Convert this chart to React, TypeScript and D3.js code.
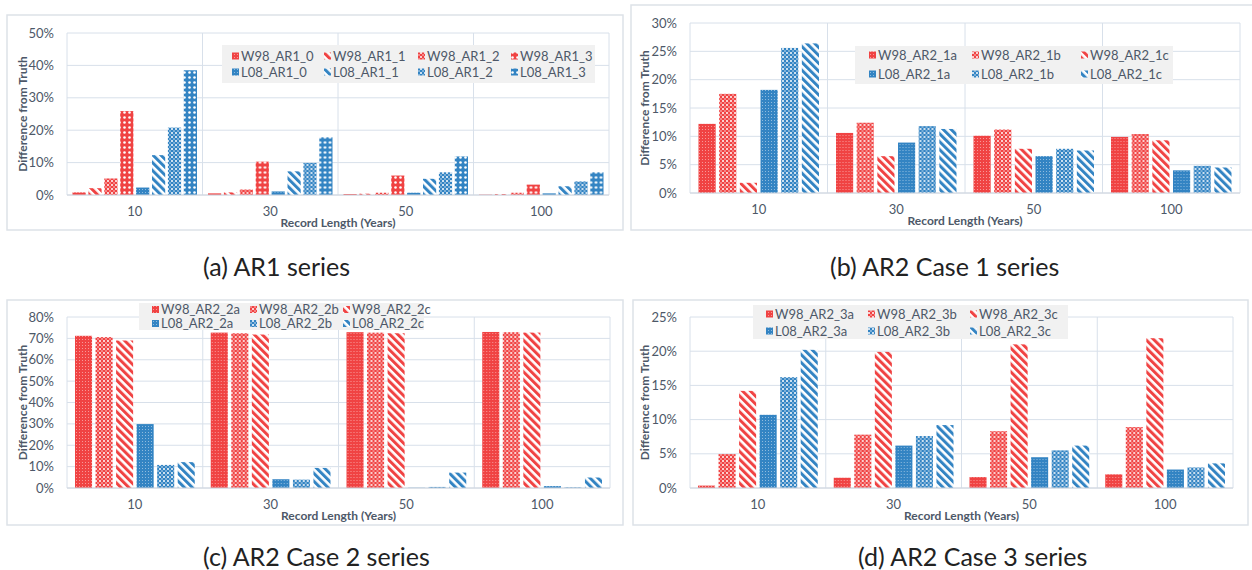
import * as d3 from "d3";
import React from "react";

// record lengths (categories)
const years = ["10", "30", "50", "100"];

// (a) AR1 series, values in % per record length
const ar1Series = ["W98_AR1_0", "W98_AR1_1", "W98_AR1_2", "W98_AR1_3", "L08_AR1_0", "L08_AR1_1", "L08_AR1_2", "L08_AR1_3"];
const ar1Values = [
  [0.8, 0.5, 0.3, 0.1],
  [2.1, 0.8, 0.4, 0.3],
  [5.1, 1.7, 0.7, 0.7],
  [25.9, 10.3, 6.0, 3.2],
  [2.3, 1.1, 0.7, 0.5],
  [12.3, 7.3, 5.0, 2.7],
  [20.8, 9.9, 7.0, 4.2],
  [38.5, 17.8, 11.9, 7.0],
];
const ar1Patterns = ["dense", "stripe", "confetti", "sphere", "dense", "stripe", "confetti", "sphere"];

// (b) AR2 case 1
const ar2c1Series = ["W98_AR2_1a", "W98_AR2_1b", "W98_AR2_1c", "L08_AR2_1a", "L08_AR2_1b", "L08_AR2_1c"];
const ar2c1Values = [
  [12.2, 10.6, 10.1, 9.9],
  [17.5, 12.4, 11.2, 10.4],
  [1.8, 6.5, 7.8, 9.3],
  [18.2, 8.9, 6.5, 4.0],
  [25.6, 11.8, 7.8, 4.8],
  [26.4, 11.3, 7.5, 4.5],
];

// (c) AR2 case 2
const ar2c2Series = ["W98_AR2_2a", "W98_AR2_2b", "W98_AR2_2c", "L08_AR2_2a", "L08_AR2_2b", "L08_AR2_2c"];
const ar2c2Values = [
  [71.2, 72.7, 72.9, 73.0],
  [70.6, 72.4, 72.7, 72.9],
  [69.0, 71.8, 72.4, 72.7],
  [29.9, 4.1, 0.1, 0.9],
  [10.8, 3.9, 0.5, 0.3],
  [12.1, 9.4, 7.2, 4.9],
];

// (d) AR2 case 3
const ar2c3Series = ["W98_AR2_3a", "W98_AR2_3b", "W98_AR2_3c", "L08_AR2_3a", "L08_AR2_3b", "L08_AR2_3c"];
const ar2c3Values = [
  [0.35, 1.5, 1.6, 2.0],
  [4.95, 7.8, 8.3, 8.9],
  [14.2, 19.9, 21.0, 21.9],
  [10.7, 6.2, 4.5, 2.7],
  [16.2, 7.6, 5.5, 3.0],
  [20.2, 9.2, 6.2, 3.6],
];
const ar2Patterns = ["dense", "confetti", "stripe", "dense", "confetti", "stripe"];

const captions = ["(a) AR1 series", "(b) AR2 Case 1 series", "(c) AR2 Case 2 series", "(d) AR2 Case 3 series"];

const FONT = "Lato, 'Open Sans', sans-serif";
const TEXT = "#4d5868";
const GRID = "#d8e0ea";
const RED = "#f04343";
const BLUE = "#3384c3";

function PatternDefs() {
  const cols: [string, string][] = [["red", RED], ["blue", BLUE]];
  return (
    <defs>
      {cols.map(([k, c]) => (
        <React.Fragment key={k}>
          <pattern id={`dense-${k}`} width={3} height={3} patternUnits="userSpaceOnUse">
            <rect width={3} height={3} fill={c} />
            <rect width={1} height={1} fill="#fff" opacity={0.45} />
          </pattern>
          <pattern id={`confetti-${k}`} width={4} height={4} patternUnits="userSpaceOnUse">
            <rect width={4} height={4} fill={c} />
            <circle cx={1} cy={1} r={1} fill="#fff" />
            <circle cx={3} cy={3} r={0.8} fill="#fff" opacity={0.8} />
          </pattern>
          <pattern id={`sphere-${k}`} width={5} height={5} patternUnits="userSpaceOnUse">
            <rect width={5} height={5} fill={c} />
            <circle cx={2.5} cy={2.5} r={1.3} fill="#fff" />
          </pattern>
          <pattern id={`stripe-${k}`} width={5.6} height={6} patternUnits="userSpaceOnUse" patternTransform="rotate(-45)">
            <rect width={5.6} height={6} fill="#fff" />
            <rect width={3} height={6} fill={c} />
          </pattern>
        </React.Fragment>
      ))}
    </defs>
  );
}

type Layout = {
  border: [number, number, number, number];
  plot: [number, number, number, number]; // x0, x1, yTop, yBottom
  yMax: number;
  yStep: number;
  titleX: number;
  barPad: number;
  legendBox: [number, number, number, number];
  legendCols: number[];
  legendRows: number[];
  caption: [number, number];
};

function Panel({ layout, series, values, patterns, caption }: { layout: Layout; series: string[]; values: number[][]; patterns: string[]; caption: string }) {
  const [x0, x1, yTop, yBot] = layout.plot;
  const x = d3.scaleBand().domain(years).range([x0, x1]);
  const cw = x.bandwidth();
  const xs = d3.scaleBand().domain(series).range([layout.barPad, cw - layout.barPad]).paddingInner(0.17);
  const y = d3.scaleLinear().domain([0, layout.yMax]).range([yBot, yTop]);
  const ticks = d3.range(0, layout.yMax + 0.001, layout.yStep);
  const fill = (i: number) => `url(#${patterns[i]}-${series[i].startsWith("W98") ? "red" : "blue"})`;
  const [bx, by, bw, bh] = layout.border;
  const [lx, ly, lw, lh] = layout.legendBox;
  const nCols = series.length / 2;

  return (
    <g>
      <rect x={bx} y={by} width={bw} height={bh} fill="#fff" stroke="#dde2e8" strokeWidth={1.5} />
      {ticks.map(t => (
        <g key={t}>
          <line x1={x0} x2={x1} y1={y(t)} y2={y(t)} stroke={GRID} strokeWidth={1} />
          <text x={x0 - 13} y={y(t) + 4.5} textAnchor="end" fontSize={13} fill={TEXT}>{`${t}%`}</text>
        </g>
      ))}
      {[...years.map(c => x(c)!), x1].map((vx, i) => (
        <line key={i} x1={vx} x2={vx} y1={yTop} y2={yBot} stroke={GRID} strokeWidth={1} />
      ))}
      {years.map((c, ci) => (
        <g key={c} transform={`translate(${x(c)},0)`}>
          {series.map((s, si) => (
            <rect key={s} x={xs(s)} y={y(values[si][ci])} width={xs.bandwidth()} height={yBot - y(values[si][ci])} fill={fill(si)} />
          ))}
          <text x={cw / 2} y={yBot + 21} textAnchor="middle" fontSize={13} fill={TEXT}>{c}</text>
        </g>
      ))}
      <line x1={x0} x2={x1} y1={yBot} y2={yBot} stroke="#d0d6de" strokeWidth={1} />
      <text x={(x0 + x1) / 2} y={yBot + 32} textAnchor="middle" fontSize={12} fontWeight="bold" fill={TEXT}>Record Length (Years)</text>
      <text transform={`translate(${layout.titleX},${(yTop + yBot) / 2}) rotate(-90)`} textAnchor="middle" dy={4} fontSize={12} fontWeight="bold" fill={TEXT}>Difference from Truth</text>
      <rect x={lx} y={ly} width={lw} height={lh} fill="#f1f1f1" />
      {series.map((s, si) => {
        const cx = layout.legendCols[si % nCols];
        const cy = layout.legendRows[Math.floor(si / nCols)];
        return (
          <g key={s}>
            <rect x={cx} y={cy - 3.5} width={7} height={7} fill={fill(si)} />
            <text x={cx + 9} y={cy + 4.5} fontSize={13} fill={TEXT}>{s}</text>
          </g>
        );
      })}
      <text x={layout.caption[0]} y={layout.caption[1]} fontSize={25} fill="#222">{caption}</text>
    </g>
  );
}

const layoutA: Layout = {
  border: [7, 15, 616, 215], plot: [67, 609, 33, 195], yMax: 50, yStep: 10, titleX: 23, barPad: 5.5,
  legendBox: [222, 45, 373, 38], legendCols: [232, 324, 418, 511], legendRows: [56, 72], caption: [203, 276],
};
const layoutB: Layout = {
  border: [631, 5, 622, 225], plot: [690, 1240, 23, 193], yMax: 30, yStep: 5, titleX: 645, barPad: 8.5,
  legendBox: [855, 46, 318, 38], legendCols: [869, 972, 1081], legendRows: [55, 74], caption: [830, 276],
};
const layoutC: Layout = {
  border: [7, 300, 616, 225], plot: [67, 610, 317, 488], yMax: 80, yStep: 10, titleX: 23, barPad: 8,
  legendBox: [139, 303, 285, 27], legendCols: [152, 250, 343], legendRows: [309.5, 323.5], caption: [203, 566],
};
const layoutD: Layout = {
  border: [633, 300, 615, 225], plot: [690, 1233, 317, 488], yMax: 25, yStep: 5, titleX: 645, barPad: 8,
  legendBox: [753, 305, 315, 34], legendCols: [766, 868, 970], legendRows: [314, 331], caption: [858, 566],
};

export default function App() {
  return (
    <svg width={1252} height={570} style={{ position: "absolute", left: 0, top: 0, background: "#fff" }} fontFamily={FONT}>
      <PatternDefs />
      <Panel layout={layoutA} series={ar1Series} values={ar1Values} patterns={ar1Patterns} caption={captions[0]} />
      <Panel layout={layoutB} series={ar2c1Series} values={ar2c1Values} patterns={ar2Patterns} caption={captions[1]} />
      <Panel layout={layoutC} series={ar2c2Series} values={ar2c2Values} patterns={ar2Patterns} caption={captions[2]} />
      <Panel layout={layoutD} series={ar2c3Series} values={ar2c3Values} patterns={ar2Patterns} caption={captions[3]} />
    </svg>
  );
}
